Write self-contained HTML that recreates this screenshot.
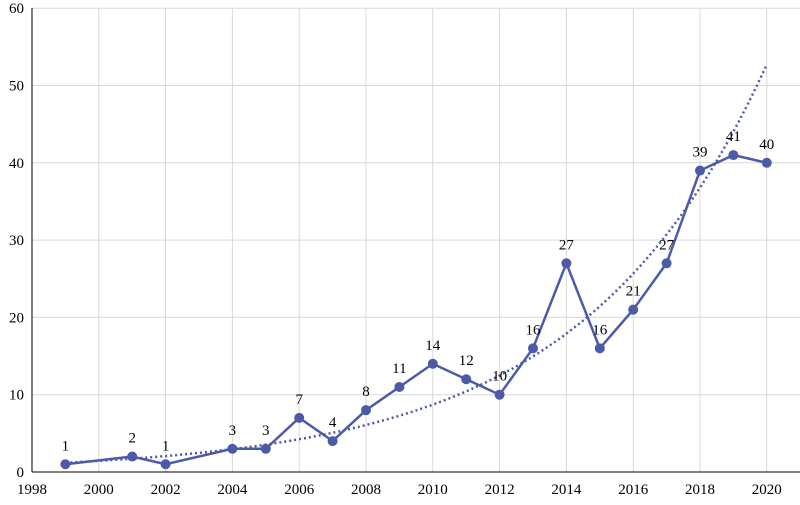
<!DOCTYPE html>
<html><head><meta charset="utf-8"><style>
body{margin:0;background:#fff;}
svg text{font-family:"Liberation Serif",serif;font-size:15px;fill:#000;}
</style></head><body>
<svg width="800" height="500">
<g id="grid"></g><g id="axes"></g><g id="trend"></g><g id="series"></g><g id="labels"></g>
</svg>
<script>
const years=[1999,2001,2002,2004,2005,2006,2007,2008,2009,2010,2011,2012,2013,2014,2015,2016,2017,2018,2019,2020];
const values=[1,2,1,3,3,7,4,8,11,14,12,10,16,27,16,21,27,39,41,40];
const xTicks=[1998,2000,2002,2004,2006,2008,2010,2012,2014,2016,2018,2020];
const yTicks=[0,10,20,30,40,50,60];
const X=v=>32+(v-1998)*33.4;
const Y=v=>472-v*7.73;
const NS="http://www.w3.org/2000/svg";
function mk(tag,attrs,parent){const e=document.createElementNS(NS,tag);for(const k in attrs)e.setAttribute(k,attrs[k]);document.getElementById(parent).appendChild(e);return e;}
xTicks.forEach(t=>{
 const l=mk('line',{x1:X(t),x2:X(t),y1:8,y2:472,stroke:'#d9d9d9','stroke-width':1},'grid');
 
 
 const tx=mk('text',{x:X(t),y:494,'text-anchor':'middle'},'axes');tx.textContent=t;
 
 
});
yTicks.forEach(t=>{
 const l=mk('line',{x1:32,x2:800,y1:Y(t),y2:Y(t),stroke:'#d9d9d9','stroke-width':1},'grid');
 
 
 const tx=mk('text',{x:24,y:Y(t)+5,'text-anchor':'end'},'axes');tx.textContent=t;
 
 
});
const ax=mk('line',{x1:32,x2:800,y1:472,y2:472,stroke:'#000','stroke-width':1},'axes');


const ay=mk('line',{x1:32,x2:32,y1:8,y2:472,stroke:'#000','stroke-width':1},'axes');


// exponential trendline (least squares on ln y)
let n=years.length,sx=0,sy=0,sxx=0,sxy=0;
years.forEach((x,i)=>{const lx=x-1999,ly=Math.log(values[i]);sx+=lx;sy+=ly;sxx+=lx*lx;sxy+=lx*ly;});
const b=(n*sxy-sx*sy)/(n*sxx-sx*sx),a=(sy-b*sx)/n;
let d='';for(let x=1999;x<=2020.05;x+=0.1){d+=(d?'L':'M')+X(x).toFixed(1)+','+Y(Math.exp(a+b*(x-1999))).toFixed(1);}
const tr=mk('path',{d:d,fill:'none',stroke:'#4d5aa8','stroke-width':2.5,'stroke-dasharray':'2,3'},'trend');


const pl=mk('polyline',{points:years.map((y,i)=>X(y)+','+Y(values[i])).join(' '),fill:'none',stroke:'#4d5aa8','stroke-width':2.5},'series');


years.forEach((y,i)=>{
 const c=mk('circle',{cx:X(y),cy:Y(values[i]),r:5,fill:'#4d5aa8'},'series');
 
 
 const t=mk('text',{x:X(y),y:Y(values[i])-14,'text-anchor':'middle'},'labels');t.textContent=values[i];
 
 
});
</script>
</body></html>
